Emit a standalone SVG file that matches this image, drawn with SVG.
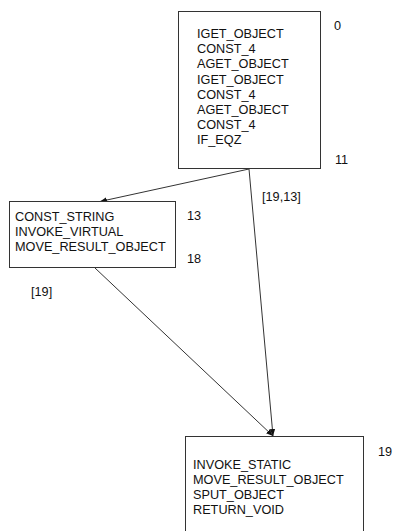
<svg xmlns="http://www.w3.org/2000/svg" width="393" height="531" viewBox="0 0 393 531">
<style>
.box{fill:#fff;stroke:#333;stroke-width:1}
text{font-family:"Liberation Sans",Arial,sans-serif;font-size:12.7px;fill:#111}
.edge{stroke:#333;stroke-width:1;fill:none;marker-end:url(#arr)}
</style>
<defs>
<marker id="arr" viewBox="0 0 10 10" refX="10" refY="5" markerWidth="7" markerHeight="7" markerUnits="userSpaceOnUse" orient="auto">
<path d="M0,1 L10,5 L0,9 z" fill="#111"/>
</marker>
</defs>
<rect width="393" height="531" fill="#fff"/>
<g id="connectors">
<line class="edge" x1="249" y1="169" x2="100" y2="201.5"/>
<line class="edge" x1="249" y1="169" x2="273" y2="436"/>
<line class="edge" x1="95" y1="268" x2="273" y2="436"/>
<text x="262" y="200.5">[19,13]</text>
<text x="31" y="296">[19]</text>
</g>
<g id="node0">
<rect class="box" x="178.5" y="11.5" width="142" height="157"/>
<text x="197" y="38">IGET_OBJECT</text>
<text x="197" y="53.2">CONST_4</text>
<text x="197" y="68.4">AGET_OBJECT</text>
<text x="197" y="83.6">IGET_OBJECT</text>
<text x="197" y="98.8">CONST_4</text>
<text x="197" y="114">AGET_OBJECT</text>
<text x="197" y="129.2">CONST_4</text>
<text x="197" y="144.4">IF_EQZ</text>
<text x="334" y="29.5">0</text>
<text x="335" y="164">11</text>
</g>
<g id="node13">
<rect class="box" x="9.5" y="201.5" width="166" height="66"/>
<text x="15" y="221">CONST_STRING</text>
<text x="15" y="236">INVOKE_VIRTUAL</text>
<text x="15" y="251">MOVE_RESULT_OBJECT</text>
<text x="187" y="219.5">13</text>
<text x="187" y="262.5">18</text>
</g>
<g id="node19">
<rect class="box" x="185.5" y="436.5" width="178" height="110"/>
<text x="193" y="468.5">INVOKE_STATIC</text>
<text x="193" y="483.5">MOVE_RESULT_OBJECT</text>
<text x="193" y="498.5">SPUT_OBJECT</text>
<text x="193" y="513.5">RETURN_VOID</text>
<text x="378" y="455.5">19</text>
</g>
</svg>
